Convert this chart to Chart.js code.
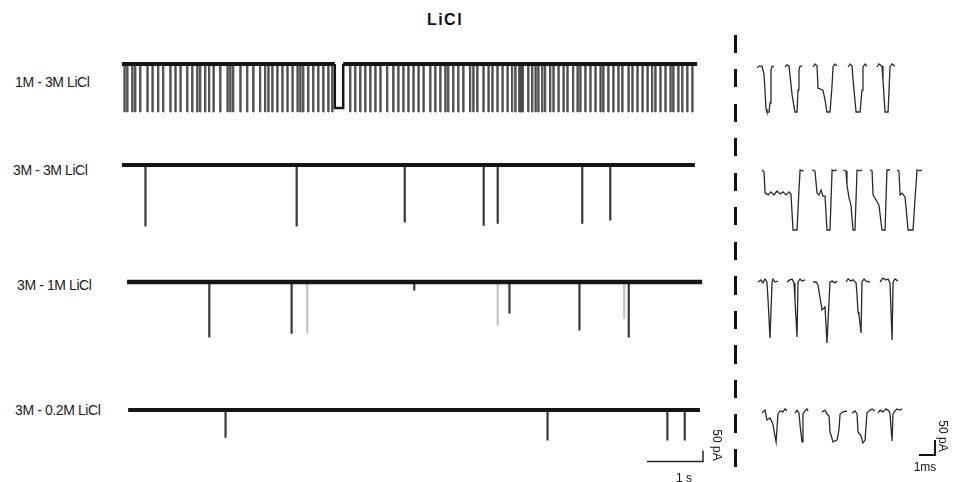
<!DOCTYPE html>
<html><head><meta charset="utf-8">
<script src="https://cdn.jsdelivr.net/npm/chart.js@4.4.1/dist/chart.umd.min.js"></script>
<style>
html,body{margin:0;padding:0;background:#fff;}
#stage{position:relative;width:956px;height:482px;overflow:hidden;font-family:"Liberation Sans",Arial,Helvetica,sans-serif;color:#111;}
canvas{position:absolute;}
.lbl{position:absolute;white-space:nowrap;font-size:14px;letter-spacing:-0.4px;line-height:14px;transform:translateY(-50%);color:#1a1a1a;}
.title{position:absolute;white-space:nowrap;font-weight:bold;font-size:16px;letter-spacing:1.5px;line-height:16px;transform:translate(-50%,-50%);}
.unit{position:absolute;white-space:nowrap;font-size:12px;line-height:12px;transform:translate(-50%,-50%);}
.vunit{position:absolute;white-space:nowrap;font-size:12px;line-height:12px;transform:translate(-50%,-50%) rotate(90deg);}
#divider{position:absolute;left:734px;top:35px;width:2.5px;height:447px;background:repeating-linear-gradient(to bottom,#111 0px,#111 18px,transparent 18px,transparent 34.5px);}
</style></head>
<body><div id="stage">
<div class="title" style="left:445px;top:20px;">LiCl</div>
<div id="divider"></div>
</div>
<script>
// ---------------- DATA ----------------
const traceLabels = ["1M - 3M LiCl", "3M - 3M LiCl", "3M - 1M LiCl", "3M - 0.2M LiCl"];

// Long recordings (time in s, current change in pA relative to open-pore baseline)
const trace1Span = [0.00, 10.27];
const trace1Gap = [3.80, 3.95];            // baseline interrupted by a long blockade
const trace1LongBlock = [3.80, 3.95, -200]; // start s, end s, pA
const trace1Depth = -218;
const trace1Times = [0.04,0.09,0.18,0.23,0.32,0.45,0.54,0.64,0.73,0.86,0.95,1.04,1.16,1.25,1.34,1.39,1.48,1.55,1.63,1.75,1.88,1.93,1.98,2.11,2.23,2.34,2.46,2.55,2.61,2.68,2.77,2.86,2.95,3.04,3.13,3.18,3.23,3.32,3.41,3.50,3.59,3.68,3.75,
 4.07,4.16,4.25,4.34,4.43,4.52,4.61,4.73,4.84,4.93,5.02,5.11,5.20,5.29,5.38,5.50,5.59,5.68,5.77,5.82,5.91,6.00,6.09,6.21,6.27,6.34,6.45,6.54,6.61,6.70,6.79,6.88,6.96,7.02,7.09,7.11,7.13,7.15,7.25,7.32,7.38,7.43,7.50,7.55,7.64,7.70,7.79,7.88,7.95,8.05,8.13,8.18,8.27,8.36,8.45,8.54,8.59,8.68,8.77,8.86,8.93,9.04,9.11,9.20,9.29,9.38,9.46,9.52,9.61,9.70,9.79,9.84,9.93,10.00,10.09,10.18];

const trace2Span = [0.00, 10.23];
const trace2Times  = [0.41, 3.11, 5.04, 6.45, 6.70, 8.21, 8.71];
const trace2Depths = [-277, -277, -259, -273, -264, -264, -250];

const trace3Span = [0.09, 10.36];
const trace3Times  = [1.55, 3.02, 5.21, 6.91, 8.16, 9.04];
const trace3Depths = [-250, -232, -36, -141, -218, -250];
const trace3FaintTimes  = [3.30, 6.70, 8.96];
const trace3FaintDepths = [-232, -195, -164];

const trace4Span = [0.11, 10.32];
const trace4Times  = [1.84, 7.59, 9.73, 10.04];
const trace4Depths = [-123, -136, -136, -136];

// Zoomed single events (time in ms, current in pA), one list per event
const zoom1Events = [
 [[0.44,-3],[0.56,3],[0.75,3],[0.88,-25],[1.00,-140],[1.06,-150],[1.19,-150],[1.25,-120],[1.31,-10],[1.38,3],[1.50,0]],
 [[2.19,0],[2.31,7],[2.44,3],[2.50,-27],[2.63,-93],[2.81,-150],[2.94,-150],[3.00,-77],[3.06,-10],[3.13,3],[3.25,3]],
 [[3.94,0],[4.06,10],[4.19,3],[4.25,-70],[4.56,-77],[4.69,-110],[4.81,-150],[5.00,-150],[5.13,-60],[5.19,0],[5.31,10],[5.44,3]],
 [[6.13,0],[6.25,10],[6.38,3],[6.44,-43],[6.63,-150],[6.88,-150],[7.00,-77],[7.06,0],[7.19,10],[7.31,3]],
 [[7.94,0],[8.06,10],[8.25,3],[8.31,-43],[8.44,-150],[8.63,-150],[8.69,-77],[8.75,0],[8.88,10],[9.06,3]]
];
const zoom2Events = [
 [[0.75,0],[0.88,-7],[0.94,-77],[1.13,-83],[1.31,-73],[1.50,-83],[1.69,-70],[1.88,-80],[2.06,-73],[2.25,-83],[2.44,-73],[2.56,-80],[2.69,-200],[2.94,-200],[3.06,-67],[3.13,0],[3.25,-3],[3.31,0]],
 [[3.88,0],[4.06,-3],[4.19,-77],[4.31,-83],[4.44,-67],[4.56,-87],[4.69,-87],[4.81,-200],[5.00,-200],[5.13,0],[5.25,-3],[5.44,0]],
 [[5.81,0],[6.00,-3],[6.06,-50],[6.19,-93],[6.31,-117],[6.44,-200],[6.56,-200],[6.69,0],[6.88,-3],[7.00,0]],
 [[7.50,0],[7.63,-3],[7.69,-83],[7.88,-100],[8.06,-117],[8.25,-200],[8.44,-200],[8.56,0],[8.75,0]],
 [[9.19,0],[9.31,-3],[9.38,-83],[9.50,-77],[9.69,-90],[9.88,-200],[10.19,-200],[10.31,-100],[10.44,0],[10.63,-3],[10.75,0]]
];
const zoom3Events = [
 [[0.50,0],[0.69,7],[0.81,-3],[0.94,10],[1.06,0],[1.13,-60],[1.25,-187],[1.38,0],[1.44,10],[1.56,0],[1.75,3]],
 [[2.31,0],[2.50,7],[2.63,10],[2.75,-3],[2.81,-60],[2.94,-183],[3.00,0],[3.13,10],[3.25,3],[3.44,7]],
 [[3.94,0],[4.13,0],[4.25,-10],[4.50,-93],[4.69,-83],[4.81,-203],[5.00,0],[5.13,3],[5.31,-3],[5.44,3]],
 [[6.00,0],[6.13,10],[6.31,3],[6.44,7],[6.63,-3],[6.69,-43],[6.75,-100],[6.81,-110],[6.94,-170],[7.00,0],[7.13,10],[7.25,3],[7.50,0]],
 [[8.13,0],[8.31,13],[8.50,7],[8.63,10],[8.75,-3],[8.88,-193],[8.94,0],[9.06,10],[9.25,3]]
];
const zoom4Events = [
 [[0.75,3],[0.94,13],[1.06,-20],[1.25,-13],[1.38,-27],[1.44,-37],[1.63,-93],[1.75,0],[1.88,10],[2.06,7],[2.19,17],[2.31,10]],
 [[2.81,3],[2.94,13],[3.06,3],[3.13,-37],[3.25,-93],[3.31,0],[3.44,10],[3.56,17],[3.63,10]],
 [[4.50,7],[4.69,13],[4.81,0],[4.94,-7],[5.00,-60],[5.19,-93],[5.44,-87],[5.56,-53],[5.63,0],[5.81,7],[6.06,10]],
 [[6.38,3],[6.56,10],[6.69,0],[6.75,-60],[6.94,-73],[7.06,-97],[7.19,-87],[7.31,3],[7.50,13],[7.63,17],[7.81,10]],
 [[8.00,3],[8.13,13],[8.31,7],[8.50,17],[8.69,10],[8.75,0],[8.88,-90],[8.94,0],[9.06,10],[9.19,17],[9.38,13],[9.50,17]]
];

// Scale bars
const scaleLeft  = {seconds: 1, pA: 50};
const scaleRight = {ms: 1, pA: 50};

// ---------------- LAYOUT ----------------
const stage = document.getElementById('stage');
const L = {left: 108, xMin: -0.25, xMax: 10.75, pxPerS: 56, pxPerPA: 0.22, above: 6, height: 76};
const R = {left: 750, xMin: 0, xMax: 12, pxPerMs: 16, pxPerPA: 0.3, above: 9, height: 80};
const leftBaselines  = [64, 165, 282, 410];
const rightBaselines = [67, 170, 282, 414];
const labelPos = [[15, 82], [13, 170], [17, 285], [15, 410]];
const leftBarAnchor  = {x: 9.375, y: -234};
const rightBarAnchor = {x: 10.56, y: -137};

function addDiv(cls, text, x, y) {
  const d = document.createElement('div');
  d.className = cls; d.textContent = text;
  d.style.left = x + 'px'; d.style.top = y + 'px';
  stage.appendChild(d);
}

function addChart(left, top, w, h, xr, yr, datasets) {
  const c = document.createElement('canvas');
  c.width = w; c.height = h;
  c.style.left = left + 'px'; c.style.top = top + 'px';
  c.style.width = w + 'px'; c.style.height = h + 'px';
  stage.appendChild(c);
  new Chart(c, {
    type: 'line',
    data: {datasets},
    options: {
      responsive: false, animation: false, devicePixelRatio: 1, events: [],
      layout: {padding: 0},
      plugins: {legend: {display: false}, tooltip: {enabled: false}, title: {display: false}},
      elements: {point: {radius: 0}, line: {tension: 0, borderCapStyle: 'butt', borderJoinStyle: 'miter'}},
      scales: {
        x: {type: 'linear', display: false, min: xr[0], max: xr[1]},
        y: {type: 'linear', display: false, min: yr[0], max: yr[1]}
      }
    }
  });
}

function line(data, color, width) {
  return {data, borderColor: color, borderWidth: width, fill: false, pointRadius: 0, spanGaps: false, clip: false, parsing: false};
}

function spikes(times, depths, dwell) {
  const pts = [];
  times.forEach((t, i) => {
    const d = Array.isArray(depths) ? depths[i] : depths;
    pts.push({x: t, y: 0}, {x: t, y: d}, {x: t + dwell, y: d}, {x: t + dwell, y: 0}, {x: t + dwell, y: null});
  });
  return pts;
}

function snippets(events) {
  const pts = [];
  events.forEach(ev => { ev.forEach(p => pts.push({x: p[0], y: p[1]})); pts.push({x: ev[ev.length - 1][0], y: null}); });
  return pts;
}

function baselineSeg(span, gap) {
  if (!gap) return [{x: span[0], y: 0}, {x: span[1], y: 0}];
  return [{x: span[0], y: 0}, {x: gap[0], y: 0}, {x: gap[0], y: null}, {x: gap[1], y: 0}, {x: span[1], y: 0}];
}

traceLabels.forEach((t, i) => addDiv('lbl', t, labelPos[i][0], labelPos[i][1]));

const leftW = Math.round((L.xMax - L.xMin) * L.pxPerS);
const leftY = [L.above / L.pxPerPA - L.height / L.pxPerPA, L.above / L.pxPerPA];
const TR = '#151515';
const dwell = 0.018;

addChart(L.left, leftBaselines[0] - L.above, leftW, L.height, [L.xMin, L.xMax], leftY, [
  line(baselineSeg(trace1Span, trace1Gap), TR, 4),
  line(spikes(trace1Times, trace1Depth, dwell), '#4a4a4a', 1),
  line([{x: trace1LongBlock[0], y: 0}, {x: trace1LongBlock[0], y: trace1LongBlock[2]}, {x: trace1LongBlock[1], y: trace1LongBlock[2]}, {x: trace1LongBlock[1], y: 0}], TR, 2.5)
]);
addChart(L.left, leftBaselines[1] - L.above, leftW, L.height, [L.xMin, L.xMax], leftY, [
  line(baselineSeg(trace2Span), TR, 4),
  line(spikes(trace2Times, trace2Depths, dwell), '#3a3a3a', 1.2)
]);
addChart(L.left, leftBaselines[2] - L.above, leftW, L.height, [L.xMin, L.xMax], leftY, [
  line(baselineSeg(trace3Span), TR, 4.5),
  line(spikes(trace3Times, trace3Depths, dwell), '#3a3a3a', 1.2),
  line(spikes(trace3FaintTimes, trace3FaintDepths, dwell), '#c4c4c4', 1.2)
]);
addChart(L.left, leftBaselines[3] - L.above, leftW, L.height, [L.xMin, L.xMax], leftY, [
  line(baselineSeg(trace4Span), TR, 4),
  line(spikes(trace4Times, trace4Depths, dwell), '#3a3a3a', 1.2),
  line([{x: leftBarAnchor.x, y: leftBarAnchor.y}, {x: leftBarAnchor.x + scaleLeft.seconds, y: leftBarAnchor.y}, {x: leftBarAnchor.x + scaleLeft.seconds, y: leftBarAnchor.y + scaleLeft.pA}], '#222', 1.5)
]);

const rightW = Math.round((R.xMax - R.xMin) * R.pxPerMs);
const rightY = [R.above / R.pxPerPA - R.height / R.pxPerPA, R.above / R.pxPerPA];
[zoom1Events, zoom2Events, zoom3Events, zoom4Events].forEach((ev, i) => {
  const ds = [line(snippets(ev), '#2a2a2a', 1.3)];
  if (i === 3) ds.push(line([{x: rightBarAnchor.x, y: rightBarAnchor.y}, {x: rightBarAnchor.x + scaleRight.ms, y: rightBarAnchor.y}, {x: rightBarAnchor.x + scaleRight.ms, y: rightBarAnchor.y + scaleRight.pA}], '#111', 2));
  addChart(R.left, rightBaselines[i] - R.above, rightW, R.height, [R.xMin, R.xMax], rightY, ds);
});

addDiv('vunit', scaleLeft.pA + ' pA', 717, 445);
addDiv('unit', scaleLeft.seconds + ' s', 684, 478);
addDiv('vunit', scaleRight.pA + ' pA', 943, 436);
addDiv('unit', scaleRight.ms + 'ms', 925, 467);
</script>
</body></html>
